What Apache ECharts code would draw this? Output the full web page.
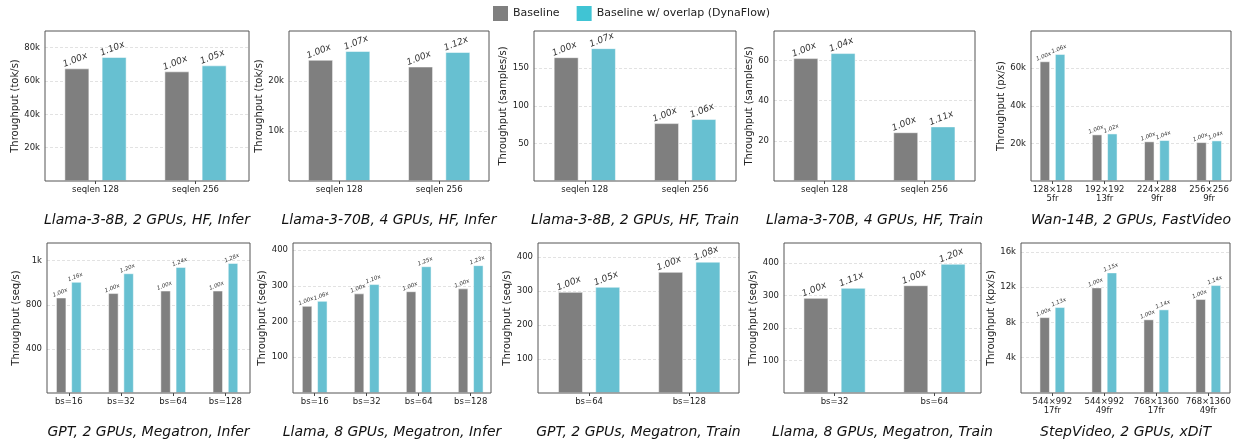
<!DOCTYPE html>
<html><head><meta charset="utf-8">
<script src="https://cdn.jsdelivr.net/npm/echarts@6/dist/echarts.min.js"></script>
<style>html,body{margin:0;padding:0;background:#fff}#c{width:1236px;height:448px}</style>
</head><body><div id="c"></div>
<script>
const seriesNames = ['Baseline', 'Baseline w/ overlap (DynaFlow)'];
const titles = [
  'Llama-3-8B, 2 GPUs, HF, Infer', 'Llama-3-70B, 4 GPUs, HF, Infer', 'Llama-3-8B, 2 GPUs, HF, Train',
  'Llama-3-70B, 4 GPUs, HF, Train', 'Wan-14B, 2 GPUs, FastVideo',
  'GPT, 2 GPUs, Megatron, Infer', 'Llama, 8 GPUs, Megatron, Infer', 'GPT, 2 GPUs, Megatron, Train',
  'Llama, 8 GPUs, Megatron, Train', 'StepVideo, 2 GPUs, xDiT'
];
const yNames = [
  'Throughput (tok/s)', 'Throughput (tok/s)', 'Throughput (samples/s)', 'Throughput (samples/s)', 'Throughput (px/s)',
  'Throughput (seq/s)', 'Throughput (seq/s)', 'Throughput (seq/s)', 'Throughput (seq/s)', 'Throughput (kpx/s)'
];

const cats1 = ['seqlen 128', 'seqlen 256'];
const base1 = [67600, 65800];
const dyna1 = [74400, 69400];
const gain1 = ['1.10x', '1.05x'];

const cats2 = ['seqlen 128', 'seqlen 256'];
const base2 = [24250, 22900];
const dyna2 = [26000, 25800];
const gain2 = ['1.07x', '1.12x'];

const cats3 = ['seqlen 128', 'seqlen 256'];
const base3 = [164.7, 77];
const dyna3 = [176.7, 82.4];
const gain3 = ['1.07x', '1.06x'];

const cats4 = ['seqlen 128', 'seqlen 256'];
const base4 = [61.2, 24.3];
const dyna4 = [63.7, 27.2];
const gain4 = ['1.04x', '1.11x'];

const cats5 = ['128×128\n5fr', '192×192\n13fr', '224×288\n9fr', '256×256\n9fr'];
const base5 = [63700, 24800, 21100, 20700];
const dyna5 = [67600, 25300, 21800, 21600];
const gain5 = ['1.06x', '1.02x', '1.04x', '1.04x'];

const cats6 = ['bs=16', 'bs=32', 'bs=64', 'bs=128'];
const base6 = [866, 906, 929, 929];
const dyna6 = [1008, 1086, 1143, 1179];
const gain6 = ['1.16x', '1.20x', '1.24x', '1.28x'];

const cats7 = ['bs=16', 'bs=32', 'bs=64', 'bs=128'];
const base7 = [244, 279, 285, 293];
const dyna7 = [258, 305, 355, 358];
const gain7 = ['1.06x', '1.10x', '1.25x', '1.23x'];

const cats8 = ['bs=64', 'bs=128'];
const base8 = [298, 357];
const dyna8 = [313, 387];
const gain8 = ['1.05x', '1.08x'];

const cats9 = ['bs=32', 'bs=64'];
const base9 = [293, 332];
const dyna9 = [324, 398];
const gain9 = ['1.11x', '1.20x'];

const cats10 = ['544×992\n17fr', '544×992\n49fr', '768×1360\n17fr', '768×1360\n49fr'];
const base10 = [8600, 11970, 8350, 10650];
const dyna10 = [9740, 13670, 9480, 12230];
const gain10 = ['1.13x', '1.15x', '1.14x', '1.14x'];

const panels = [
  {cats: cats1, base: base1, dyna: dyna1, gain: gain1, yMax: 90000, yInt: 20000},
  {cats: cats2, base: base2, dyna: dyna2, gain: gain2, yMax: 30000, yInt: 10000},
  {cats: cats3, base: base3, dyna: dyna3, gain: gain3, yMax: 199.5, yInt: 50},
  {cats: cats4, base: base4, dyna: dyna4, gain: gain4, yMax: 74.7, yInt: 20},
  {cats: cats5, base: base5, dyna: dyna5, gain: gain5, yMax: 79800, yInt: 20000},
  {cats: cats6, base: base6, dyna: dyna6, gain: gain6, yMax: 1360, yInt: 400},
  {cats: cats7, base: base7, dyna: dyna7, gain: gain7, yMax: 420, yInt: 100},
  {cats: cats8, base: base8, dyna: dyna8, gain: gain8, yMax: 442, yInt: 100},
  {cats: cats9, base: base9, dyna: dyna9, gain: gain9, yMax: 462, yInt: 100},
  {cats: cats10, base: base10, dyna: dyna10, gain: gain10, yMax: 17000, yInt: 4000}
];

// layout: frame box and data band area
const layout = [
  {fl: 45, fw: 204, dl: 45.5, dw: 200, top: 31, gap: 23},
  {fl: 289, fw: 200, dl: 289.2, dw: 200, top: 31, gap: 22},
  {fl: 534, fw: 202, dl: 534.6, dw: 200.8, top: 31, gap: 24},
  {fl: 774, fw: 201, dl: 774.5, dw: 199.8, top: 31, gap: 17},
  {fl: 1031, fw: 200, dl: 1026.4, dw: 208.8, top: 31, gap: 24},
  {fl: 47, fw: 203, dl: 42.7, dw: 208.8, top: 243, gap: 25},
  {fl: 293, fw: 198, dl: 288.7, dw: 208, top: 243, gap: 25},
  {fl: 538, fw: 201, dl: 539, dw: 200.4, top: 243, gap: 24},
  {fl: 784, fw: 197, dl: 784.6, dw: 199.8, top: 243, gap: 24},
  {fl: 1021, fw: 209, dl: 1026.3, dw: 208, top: 243, gap: 15}
];
const plotH = 150;
const GRAY = '#7f7f7f', TEAL = '#67c0d1';
const FONT = 'DejaVu Sans';

const fmt = v => v >= 1000 ? Math.round(v / 1000) + 'k' : String(v);

const grid = [], xAxis = [], yAxis = [], series = [], graphic = [];
panels.forEach((p, i) => {
  const L = layout[i];
  const small = p.cats.length > 2;
  grid.push({left: L.fl, top: L.top, width: L.fw, height: plotH, show: true, z: 5,
    borderColor: '#555', borderWidth: 1, backgroundColor: 'rgba(0,0,0,0)', containLabel: false});
  grid.push({left: L.dl, top: L.top, width: L.dw, height: plotH, containLabel: false});
  xAxis.push({gridIndex: 2 * i, type: 'value', show: false, min: 0, max: 1});
  xAxis.push({gridIndex: 2 * i + 1, type: 'category', data: p.cats,
    axisLine: {show: false},
    axisTick: {show: true, alignWithLabel: true, length: 3, lineStyle: {color: '#444'}},
    axisLabel: {fontSize: 8.5, color: '#222', margin: 4, lineHeight: 9, interval: 0, fontFamily: FONT},
    splitLine: {show: false}});
  yAxis.push({gridIndex: 2 * i, type: 'value', min: 0, max: p.yMax, interval: p.yInt,
    name: yNames[i], nameLocation: 'middle', nameGap: L.gap,
    nameTextStyle: {fontSize: 10, color: '#222', fontFamily: FONT},
    axisLine: {show: false}, axisTick: {show: false},
    axisLabel: {fontSize: 8.5, color: '#222', margin: 5, showMinLabel: false, showMaxLabel: false,
      formatter: fmt, fontFamily: FONT},
    splitLine: {show: true, showMinLine: false, showMaxLine: false,
      lineStyle: {type: [3, 2], color: '#dadada', width: 0.8}}});
  yAxis.push({gridIndex: 2 * i + 1, type: 'value', min: 0, max: p.yMax, show: false,
    splitLine: {show: false}});
  const lab = (txt) => ({show: true, position: 'top', rotate: 22, distance: small ? 2 : 4,
    fontSize: small ? 5.5 : 9, fontStyle: 'italic', color: '#333', fontFamily: FONT,
    formatter: txt});
  series.push({type: 'bar', name: seriesNames[0], xAxisIndex: 2 * i + 1, yAxisIndex: 2 * i + 1,
    data: p.base, barWidth: small ? 10.5 : 25, barGap: small ? '45%' : '49%',
    itemStyle: {color: GRAY, borderColor: 'rgba(255,255,255,0.5)', borderWidth: 1},
    label: lab(() => '1.00x'), animation: false});
  series.push({type: 'bar', name: seriesNames[1], xAxisIndex: 2 * i + 1, yAxisIndex: 2 * i + 1,
    data: p.dyna, barWidth: small ? 10.5 : 25, barGap: small ? '45%' : '49%',
    itemStyle: {color: TEAL, borderColor: 'rgba(255,255,255,0.5)', borderWidth: 1},
    label: lab(params => p.gain[params.dataIndex]), animation: false});
  graphic.push({type: 'text', x: L.fl + L.fw / 2, y: L.top + plotH + 39,
    style: {text: titles[i], fontSize: 14, fontStyle: 'italic', fontFamily: FONT, fill: '#111',
      align: 'center', verticalAlign: 'middle'}});
});

const chart = echarts.init(document.getElementById('c'), null, {renderer: 'canvas'});
chart.setOption({
  animation: false,
  textStyle: {fontFamily: FONT},
  legend: {top: 1, left: 488, itemWidth: 15, itemHeight: 15, itemGap: 17, icon: 'rect',
    textStyle: {fontSize: 11, color: '#222', fontFamily: FONT},
    data: [{name: seriesNames[0], itemStyle: {color: GRAY, borderWidth: 0}},
           {name: seriesNames[1], itemStyle: {color: '#40c4d4', borderWidth: 0}}]},
  grid, xAxis, yAxis, series, graphic
});
</script></body></html>
